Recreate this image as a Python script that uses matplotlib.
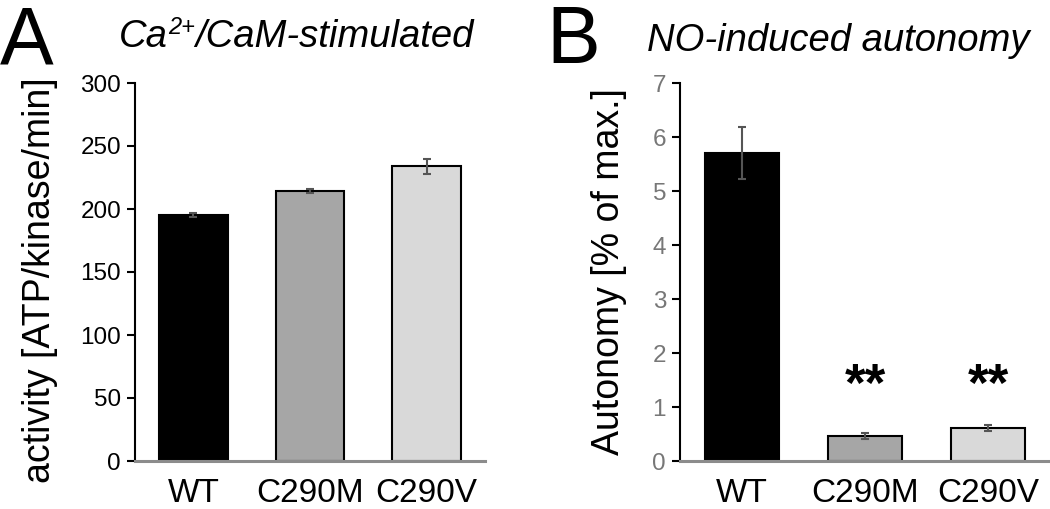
import matplotlib.pyplot as plt

plt.rcParams['font.family'] = ['Liberation Sans', 'DejaVu Sans']

labels = ['WT', 'C290M', 'C290V']
colors = ['#000000', '#a6a6a6', '#d9d9d9']

activity = [195, 214, 234]
activity_err = [1.5, 1.5, 6]

autonomy = [5.7, 0.46, 0.61]
autonomy_err = [0.48, 0.05, 0.06]
stars = ['', '**', '**']

W, H = 1050, 509
fig = plt.figure(figsize=(W / 100, H / 100), dpi=100)
axA = fig.add_axes([135 / W, 1 - 461 / H, 350 / W, 378 / H])
axB = fig.add_axes([680 / W, 1 - 461 / H, 370 / W, 378 / H])


def style(ax, tickcolor):
    for s in ['top', 'right']:
        ax.spines[s].set_visible(False)
    ax.spines['left'].set_linewidth(1.5)
    ax.spines['bottom'].set_color('#8c8c8c')
    ax.spines['bottom'].set_linewidth(2.2)
    ax.tick_params(axis='y', direction='out', length=6, width=1.5,
                   labelsize=17.5, labelcolor=tickcolor, pad=4)
    ax.tick_params(axis='x', length=0, labelsize=24, pad=12)
    ax.set_xlim(-0.5, 2.5)


x = range(len(labels))
ekw = dict(ecolor='#555555', elinewidth=1.5, capsize=3, capthick=1.5)

axA.bar(x, activity, width=0.59, color=colors, edgecolor='black', linewidth=1.5,
        yerr=activity_err, error_kw=ekw)
axA.set_ylim(0, 300)
axA.set_yticks(range(0, 301, 50))
axA.set_xticks(list(x))
axA.set_xticklabels(labels)
style(axA, 'black')
axA.set_ylabel('activity [ATP/kinase/min]', fontsize=27)
axA.yaxis.set_label_coords(-0.22, 0.479)

axB.bar(x, autonomy, width=0.6, color=colors, edgecolor='black', linewidth=1.5,
        yerr=autonomy_err, error_kw=ekw)
axB.set_ylim(0, 7)
axB.set_yticks(range(0, 8))
axB.set_xticks(list(x))
axB.set_xticklabels(labels)
style(axB, '#777777')
axB.set_ylabel('Autonomy [% of max.]', fontsize=27)
axB.yaxis.set_label_coords(-0.143, 0.5)
for i, s in enumerate(stars):
    if s:
        axB.text(i, 1.37, s, ha='center', va='center', fontsize=38,
                 fontweight='bold')

# panel letters
fig.text(0, 1 - 63 / H, 'A', fontsize=58, va='baseline', ha='left')
fig.text(546 / W, 1 - 63 / H, 'B', fontsize=58, va='baseline', ha='left')

# titles, built from pieces so the superscript sits tight
renderer = fig.canvas.get_renderer()


def title(parts, cx, base):
    texts = []
    for s, size, lift in parts:
        t = fig.text(0, 1 - (base - lift) / H, s, fontsize=size,
                     style='italic', ha='left', va='baseline')
        texts.append(t)
    widths = [t.get_window_extent(renderer=renderer).width for t in texts]
    left = cx - sum(widths) / 2
    for t, w in zip(texts, widths):
        t.set_x(left / W)
        left += w


title([('Ca', 27.5, 0), ('2+', 17, 13), ('/CaM-stimulated', 27.5, 0)], 296, 47)
title([('NO-induced autonomy', 27.5, 0)], 838, 51)

fig.savefig('out.png', dpi=100)
